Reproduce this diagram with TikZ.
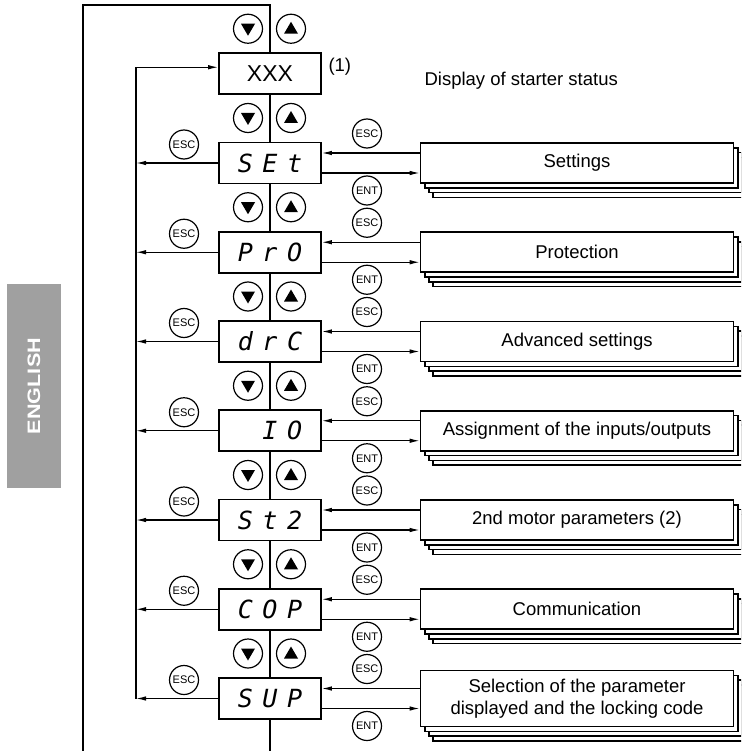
\documentclass[tikz,border=0pt]{standalone}
\usepackage{fontspec}
\setmainfont{Liberation Sans}
\newfontfamily\lcdfont{DejaVu Sans Mono}
\usepackage{tikz}
\usetikzlibrary{arrows.meta,calc}
\definecolor{tabgray}{RGB}{160,160,160}
\newcommand\seggap{\hspace{9.5pt}}

\begin{document}
\begin{tikzpicture}[x=1pt,y=-1pt,
  link/.style={line width=1.2pt},
  arr/.style={link,-{Latex[length=10pt,width=4.5pt]}},
  lcd/.style={draw,line width=1.6pt,minimum width=102pt,minimum height=41pt,inner sep=0pt,font=\lcdfont\itshape\fontsize{25}{25}\selectfont},
  menu/.style={draw,line width=1.6pt,fill=white,minimum width=313pt,align=center,inner sep=0pt,font=\fontsize{18.5}{22}\selectfont},
  layer/.style={draw,line width=1.6pt,fill=white},
  navkey/.style={circle,draw,line width=1.2pt,minimum size=29pt,inner sep=0pt},
  txtkey/.style={navkey,font=\fontsize{11}{11}\selectfont}]
\clip (0,0) rectangle (741,751);
\node[fill=tabgray,rotate=90,minimum width=204pt,minimum height=54pt,text=white,font=\bfseries\fontsize{18}{18}\selectfont] (tab) at (34,386) {\scalebox{1.2}[1]{ENGLISH}};
\coordinate (rail) at (136,0);
\coordinate (looptop) at (83,5);
\coordinate (loopend) at (83,760);
\coordinate (exit) at (270,760);
\node[lcd,font=\fontsize{23}{23}\selectfont] (d0) at (270,73.75) {XXX};
\node[anchor=west,font=\fontsize{18.5}{20}\selectfont] (note1) at (325,67) {(1)};
\node[anchor=west,font=\fontsize{18.5}{20}\selectfont] (status) at (421,81) {Display of starter status};
\foreach \i/\code/\h/\lab in {
  1/{S\seggap E\seggap t}/40/Settings,
  2/{P\seggap r\seggap O}/40/Protection,
  3/{d\seggap r\seggap C}/40/{Advanced settings},
  4/{\phantom{S}\seggap I\seggap O}/40/{Assignment of the inputs/outputs},
  5/{S\seggap t\seggap 2}/40/{2nd motor parameters (2)},
  6/{C\seggap O\seggap P}/40/Communication,
  7/{S\seggap U\seggap P}/56/{Selection of the parameter\\displayed and the locking code}}{
  \pgfmathsetmacro\yy{73.75+89.25*\i}
  \pgfmathtruncatemacro\prev{\i-1}
  \node[lcd] (d\i) at (270,\yy) {\code};
  \foreach \k in {3,2,1}
    \draw[layer] (420.5+4.2*\k,\yy-\h/2+4.8*\k) rectangle ++(313,\h);
  \node[menu,minimum height=\h pt] (m\i) at (577,\yy) {\lab};
  \node[txtkey] (le\i) at (184,\yy-18.5) {ESC};
  \node[txtkey] (ri\i) at (367,\yy-29.5) {ESC};
  \node[txtkey] (ro\i) at (367,\yy+27.5) {ENT};
  \draw[link] (d\prev.south) -- (d\i.north);
  \draw[arr] (d\i.west) -- (d\i.west -| rail);
  \draw[arr] ([yshift=10pt]m\i.west) -- ([yshift=10pt]d\i.east);
  \draw[arr] ([yshift=-10pt]d\i.east) -- ([yshift=-10pt]m\i.west);
}
\foreach \i in {0,...,7}{
  \pgfmathsetmacro\yy{73.75+89.25*\i-45}
  \node[navkey] (dn\i) at (248,\yy) {};
  \node[navkey] (up\i) at (291,\yy) {};
  \fill ([shift={(-7,-5)}]dn\i.center) -- ++(14,0) -- ++(-7,12) -- cycle;
  \fill ([shift={(-7,5)}]up\i.center) -- ++(14,0) -- ++(-7,-12) -- cycle;
}
\draw[arr] (d7.west -| rail) |- ([yshift=6.5pt]d0.west);
\draw[link] (d0.north) |- (looptop) -- (loopend);
\draw[link] (d7.south) -- (exit);
\end{tikzpicture}
\end{document}
